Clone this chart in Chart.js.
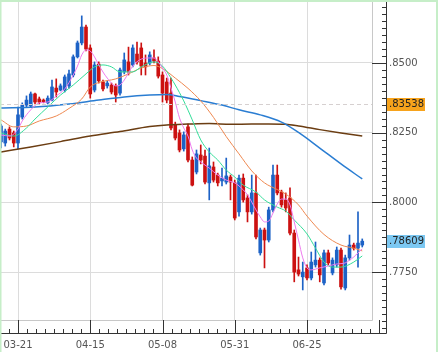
<!DOCTYPE html>
<html><head><meta charset="utf-8">
<script src="https://cdn.jsdelivr.net/npm/chart.js@4.4.1/dist/chart.umd.min.js"></script>
<style>html,body{margin:0;padding:0;background:#fff;}canvas{display:block;}</style>
</head><body>
<canvas id="c" width="439" height="352"></canvas>
<script>
// ---- data ----
const dateLabels = ['03-21','04-15','05-08','05-31','06-25'];
const dateLabelIdx = [4,21,38,55,72];
const yTickVals = [0.7750,0.8000,0.8250,0.8500];
const refLevel = 0.83538;
const lastPrice = 0.78609;

const openV = [.8217,.8213,.8263,.8249,.8213,.8306,.8349,.8346,.8389,.8371,
 .8367,.8357,.8367,.8410,.8403,.8403,.8418,.8457,.8522,.8572,
 .8629,.8554,.8403,.8496,.8432,.8418,.8421,.8418,.8392,.8468,
 .8504,.8493,.8532,.8554,.8500,.8500,.8518,.8507,.8457,.8432,
 .8392,.8278,.8249,.8192,.8271,.8152,.8109,.8170,.8166,.8070,
 .8127,.8098,.8077,.8073,.8091,.8070,.7966,.8087,.8016,.7966,
 .8034,.7819,.7901,.7865,.7973,.8098,.8037,.8009,.8016,.7890,
 .7758,.7733,.7765,.7729,.7776,.7793,.7711,.7819,.7747,.7776,
 .7829,.7693,.7801,.7847,.7836,.7847];
const highV = [.8281,.8263,.8271,.8256,.8342,.8357,.8382,.8396,.8392,.8378,
 .8371,.8382,.8439,.8443,.8425,.8457,.8475,.8529,.8579,.8669,
 .8636,.8565,.8504,.8504,.8439,.8436,.8428,.8425,.8482,.8536,
 .8557,.8565,.8575,.8572,.8529,.8540,.8547,.8522,.8468,.8446,
 .8446,.8288,.8260,.8253,.8281,.8163,.8188,.8206,.8188,.8195,
 .8145,.8105,.8123,.8159,.8098,.8080,.8098,.8102,.8027,.8098,
 .8098,.7908,.7908,.7983,.8134,.8134,.8044,.8034,.8052,.7901,
 .7804,.7786,.7776,.7822,.7858,.7801,.7829,.7829,.7801,.7840,
 .7836,.7811,.7883,.7854,.7966,.7869];
const lowV = [.8195,.8202,.8224,.8199,.8192,.8299,.8342,.8342,.8353,.8353,
 .8357,.8353,.8364,.8378,.8400,.8396,.8410,.8450,.8518,.8565,
 .8543,.8374,.8396,.8428,.8400,.8410,.8389,.8360,.8385,.8461,
 .8457,.8486,.8496,.8457,.8457,.8493,.8500,.8446,.8360,.8357,
 .8260,.8224,.8181,.8184,.8145,.8059,.8102,.8138,.8066,.8009,
 .8073,.8059,.8059,.8066,.8009,.7937,.7951,.8001,.7930,.7958,
 .7869,.7811,.7765,.7858,.7966,.8027,.7983,.7966,.7883,.7715,
 .7736,.7686,.7722,.7722,.7768,.7715,.7704,.7776,.7740,.7768,
 .7689,.7686,.7793,.7829,.7768,.7840];
const closeV = [.8274,.8256,.8231,.8213,.8314,.8349,.8367,.8389,.8360,.8360,
 .8360,.8374,.8414,.8396,.8418,.8450,.8461,.8522,.8572,.8629,
 .8550,.8389,.8493,.8436,.8407,.8428,.8396,.8385,.8475,.8511,
 .8468,.8554,.8504,.8489,.8486,.8529,.8507,.8453,.8392,.8367,
 .8267,.8231,.8188,.8242,.8152,.8062,.8174,.8152,.8073,.8131,
 .8080,.8070,.8087,.8095,.8073,.7944,.8087,.8009,.7966,.8034,
 .7876,.7901,.7865,.7973,.8098,.8034,.7991,.7980,.7890,.7750,
 .7743,.7750,.7729,.7786,.7793,.7740,.7819,.7783,.7793,.7829,
 .7697,.7801,.7847,.7836,.7854,.7861];

const maBrownIdx = [0,7,14,21,28,35,39,44,49,54,59,63,67,70,75,80,85];
const maBrownVal = [.8181,.8199,.8218,.8238,.8254,.8272,.8278,.8281,.8283,.8280,.8281,.8281,.8280,.8274,.8261,.8249,.8238];
const maBlueIdx = [0,8,16,23,29,35,39,42,47,52,56,61,66,70,75,80,85];
const maBlueVal = [.8339,.8342,.8353,.8367,.8378,.8385,.8387,.8380,.8365,.8349,.8332,.8314,.8288,.8251,.8195,.8138,.8084];
const maOrangeIdx = [0,3,6,9,13,16,19,21,23,27,30,33,36,38,41,44,47,50,53,56,59,62,65,67,70,72,76,80,83,85];
const maOrangeVal = [.8296,.8271,.8274,.8292,.8310,.8337,.8371,.8414,.8430,.8443,.8461,.8482,.8491,.8480,.8446,.8409,.8364,.8305,.8236,.8174,.8113,.8070,.8046,.8030,.7991,.7951,.7885,.7847,.7836,.7826];
const maGreenIdx = [0,3,6,8,11,14,17,20,22,24,26,28,31,33,36,38,40,41,43,45,47,49,51,53,55,57,60,62,65,67,69,72,74,76,78,80,83,85];
const maGreenVal = [.8249,.8238,.8267,.8299,.8342,.8385,.8421,.8461,.8486,.8493,.8486,.8468,.8468,.8486,.8504,.8489,.8446,.8421,.8364,.8296,.8224,.8181,.8152,.8116,.8091,.8062,.8037,.8009,.7983,.7969,.7937,.7887,.7836,.7786,.7768,.7768,.7786,.7808];
const maPinkIdx = [0,2,4,5,7,9,11,13,15,17,18,19,20,21,22,23,25,27,28,29,31,33,35,36,37,38,39,40,41,42,43,44,45,46,47,49,51,53,55,56,58,60,61,62,63,64,65,66,67,68,69,70,71,72,73,75,77,79,81,82,83,84,85];
const maPinkVal = [.8242,.8238,.8263,.8292,.8332,.8357,.8360,.8382,.8407,.8457,.8489,.8529,.8547,.8543,.8522,.8493,.8446,.8418,.8421,.8439,.8489,.8514,.8518,.8518,.8504,.8482,.8457,.8410,.8360,.8303,.8267,.8238,.8188,.8159,.8145,.8123,.8098,.8080,.8070,.8059,.8027,.7973,.7948,.7930,.7933,.7962,.7994,.8012,.8012,.7991,.7930,.7865,.7801,.7765,.7758,.7765,.7772,.7779,.7783,.7793,.7804,.7819,.7833];

// ---- styling / layout ----
const UP = '#1d62c6', DOWN = '#cc1111';
const candleColors = openV.map((o,i)=> closeV[i] >= o ? UP : DOWN);
const X_MIN = -1/4.25, X_MAX = 371/4.25;
const Y_MAX = 0.85 + 63/2788, Y_MIN = 0.85 - 257/2788;
const FONT = {family:'DejaVu Sans', size:10};

function lineDs(idx, val, color, w, order){
  return {type:'line', data: idx.map((x,k)=>({x:x, y:val[k]})), borderColor:color, borderWidth:w,
    pointRadius:0, cubicInterpolationMode:'monotone', fill:false, order:order};
}
function noPad(s){ s.paddingLeft = 0; s.paddingRight = 0; s.paddingTop = 0; s.paddingBottom = 0; }

const decor = {
  id:'decor',
  afterDraw(chart){
    const ctx = chart.ctx, ca = chart.chartArea, xs = chart.scales.x, ys = chart.scales.y;
    const axX = ca.right + 14, axY = ca.bottom + 13;
    ctx.save();
    // reference dashed line
    const ry = Math.round(ys.getPixelForValue(refLevel)) + 0.5;
    ctx.strokeStyle = '#d6d0d0'; ctx.lineWidth = 1; ctx.setLineDash([4,3]);
    ctx.beginPath(); ctx.moveTo(ca.left, ry); ctx.lineTo(ca.right, ry); ctx.stroke();
    ctx.setLineDash([]);
    // plot frame right/bottom
    ctx.strokeStyle = '#c8c8c8';
    ctx.beginPath(); ctx.moveTo(ca.right+0.5, 0); ctx.lineTo(ca.right+0.5, ca.bottom+0.5); ctx.lineTo(0, ca.bottom+0.5); ctx.stroke();
    // axis lines
    ctx.strokeStyle = '#333';
    ctx.beginPath(); ctx.moveTo(axX+0.5, 0); ctx.lineTo(axX+0.5, axY+0.5); ctx.lineTo(0, axY+0.5); ctx.stroke();
    // y ticks
    ctx.beginPath();
    for (let k = 0; k < 60; k++) {
      const v = 0.7500 + k*0.0025;
      const p = ys.getPixelForValue(v);
      if (p < 0 || p > axY) continue;
      const m = Math.round(v*10000) % 250 === 0 ? 14 : 4;
      const py = Math.round(p) + 0.5;
      ctx.moveTo(axX - m, py); ctx.lineTo(axX, py);
    }
    // x ticks
    for (let k = -2; k < 45; k++) {
      const v = dateLabelIdx[0] + k*17/8;
      const p = xs.getPixelForValue(v);
      if (p < 0 || p > axX) continue;
      const m = (k % 8 === 0) ? 13 : 4;
      const px = Math.round(p) + 0.5;
      ctx.moveTo(px, axY - m); ctx.lineTo(px, axY);
    }
    ctx.stroke();
    // price boxes
    ctx.font = '10px "DejaVu Sans"'; ctx.textBaseline = 'middle'; ctx.textAlign = 'left';
    const box = (val, fill) => {
      const py = ys.getPixelForValue(val);
      ctx.fillStyle = fill; ctx.fillRect(axX+1, Math.round(py)-6, 38, 13);
      ctx.fillStyle = '#222'; ctx.fillText('.' + val.toFixed(5).split('.')[1], axX+3, Math.round(py)+0.5);
    };
    box(refLevel, '#f7a31c');
    box(lastPrice, '#7cc8f2');
    // outer frame
    ctx.strokeStyle = '#c6eec8'; ctx.lineWidth = 2;
    ctx.beginPath(); ctx.moveTo(0, 1); ctx.lineTo(437, 1); ctx.stroke();
    ctx.beginPath(); ctx.moveTo(437, 0); ctx.lineTo(437, 352); ctx.stroke();
    ctx.lineWidth = 1.5;
    ctx.beginPath(); ctx.moveTo(0.75, 0); ctx.lineTo(0.75, 352); ctx.stroke();
    ctx.restore();
  }
};

new Chart(document.getElementById('c'), {
  type: 'bar',
  data: { datasets: [
    lineDs(maPinkIdx, maPinkVal, '#ee7aee', 1, 0),
    lineDs(maGreenIdx, maGreenVal, '#33dd99', 1, 1),
    lineDs(maOrangeIdx, maOrangeVal, '#ee8850', 1, 2),
    lineDs(maBlueIdx, maBlueVal, '#2a7dd2', 1.5, 3),
    lineDs(maBrownIdx, maBrownVal, '#6b3d12', 1.5, 4),
    {type:'bar', data: openV.map((o,i)=>({x:i, y:[o, closeV[i]]})), backgroundColor:candleColors,
      barThickness:3, grouped:false, minBarLength:1, borderWidth:0, order:10},
    {type:'bar', data: openV.map((o,i)=>({x:i, y:[lowV[i], highV[i]]})), backgroundColor:candleColors,
      barThickness:1, grouped:false, borderWidth:0, order:11}
  ]},
  options: {
    responsive:false, animation:false, devicePixelRatio:1, events:[],
    layout:{padding:0, autoPadding:false},
    plugins:{legend:{display:false}, tooltip:{enabled:false}},
    scales:{
      x:{ type:'linear', min:X_MIN, max:X_MAX, offset:false,
        afterBuildTicks: s => { s.ticks = dateLabelIdx.map(v=>({value:v})); },
        afterFit: s => { s.height = 32; noPad(s); },
        grid:{color:'#dcdcdc', drawTicks:false, offset:false},
        border:{display:false},
        ticks:{ autoSkip:false, maxRotation:0, padding:19, color:'#555', font:FONT,
          callback: v => dateLabels[dateLabelIdx.indexOf(v)] }
      },
      y:{ type:'linear', position:'right', min:Y_MIN, max:Y_MAX,
        afterBuildTicks: s => { s.ticks = yTickVals.map(v=>({value:v})); },
        afterFit: s => { s.width = 67; noPad(s); },
        grid:{color:'#dcdcdc', drawTicks:false},
        border:{display:false},
        ticks:{ padding:17, color:'#555', font:FONT,
          callback: v => '.' + v.toFixed(4).split('.')[1] }
      }
    }
  },
  plugins:[decor]
});
</script>
</body></html>
